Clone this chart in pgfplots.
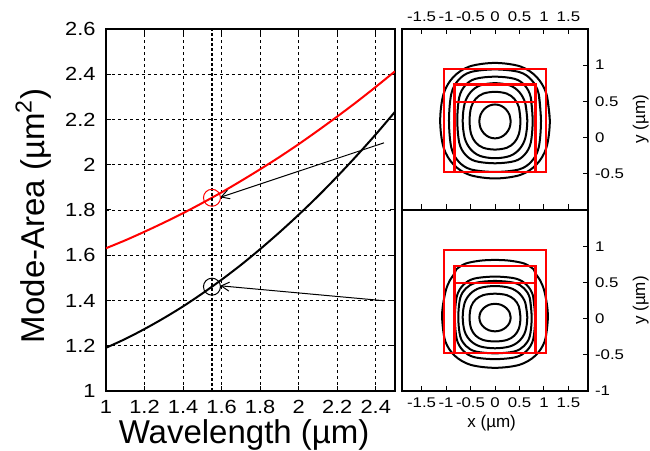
\documentclass[border=0pt]{standalone}
\usepackage{fontspec}
\setmainfont{Liberation Sans}
\newfontfamily\tickfont[FakeStretch=1.15]{Liberation Sans}
\newfontfamily\smalltickfont[FakeStretch=1.2]{Liberation Sans}
\usepackage{pgfplots}
\pgfplotsset{compat=1.18}
\usetikzlibrary{arrows.meta}
\pgfplotsset{
  every axis/.append style={
    scale only axis,
    axis line style={line width=0.75pt},
    tick align=inside,
    major tick length=2.5pt,
    tick style={black, line width=0.5pt},
    /pgf/number format/assume math mode=true,
  },
  contour/.style={black, line width=1pt, smooth, tension=0.55, no markers, line join=round},
  wg/.style={red, line width=1.15pt, sharp plot, no markers, line join=miter},
  panel/.style={
    anchor=south west, width=93pt,
    xmin=-1.9, xmax=1.9, ymin=-1, ymax=1.5,
    xtick={-1.5,-1,-0.5,0,0.5,1,1.5},
    ytick pos=right, yticklabel pos=right,
    tick label style={font=\smalltickfont\fontsize{7}{8}\selectfont},
    ylabel={y (µm)},
    every axis y label/.style={at={(axis description cs:1.283,0.5)}, rotate=90, anchor=center, font=\fontsize{8.5}{10}\selectfont},
  },
}
\begin{document}
\begin{tikzpicture}
\useasboundingbox (0,0) rectangle (325pt,225.5pt);
% ---------------- main axis ----------------
\begin{axis}[
  at={(53pt,30pt)}, anchor=south west,
  width=144.5pt, height=181pt,
  xmin=1, xmax=2.5, ymin=1, ymax=2.6,
  xtick={1,1.2,1.4,1.6,1.8,2,2.2,2.4},
  ytick={1,1.2,1.4,1.6,1.8,2,2.2,2.4,2.6},
  xtick pos=both, ytick pos=both,
  tick label style={font=\tickfont\fontsize{9.5}{11}\selectfont},
  xticklabel style={yshift=-1.2pt},
  yticklabel style={xshift=-1.7pt},
  grid=major,
  major grid style={black, line width=0.4pt, dash pattern=on 1.5pt off 1.5pt},
  xlabel={Wavelength (µm)},
  ylabel={Mode-Area (µm\textsuperscript{2})},
  every axis x label/.style={at={(axis description cs:0.478,0)}, anchor=base, yshift=-26.15pt, font=\fontsize{16.5}{18}\selectfont},
  every axis y label/.style={at={(axis description cs:-0.2516,0.484)}, rotate=90, anchor=center, font=\fontsize{16.5}{18}\selectfont},
]
\addplot[red, line width=1pt, smooth, no markers] coordinates {
(1.0,1.631) (1.1,1.666) (1.2,1.704) (1.3,1.744) (1.4,1.786) (1.5,1.831)
(1.6,1.878) (1.7,1.928) (1.8,1.980) (1.9,2.034) (2.0,2.091) (2.1,2.151)
(2.2,2.213) (2.3,2.277) (2.4,2.344) (2.5,2.413)};
\addplot[black, line width=1pt, smooth, no markers] coordinates {
(1.0,1.191) (1.1,1.230) (1.2,1.274) (1.3,1.322) (1.4,1.374) (1.5,1.431)
(1.6,1.492) (1.7,1.557) (1.8,1.627) (1.9,1.701) (2.0,1.779) (2.1,1.861)
(2.2,1.948) (2.3,2.039) (2.4,2.134) (2.5,2.234)};
\addplot[black, line width=1pt, dash pattern=on 1.5pt off 1pt, no markers] coordinates {(1.55,1) (1.55,2.6)};
\addplot[red, only marks, mark=o, mark size=4.25pt, mark options={line width=0.5pt}] coordinates {(1.55,1.854)};
\addplot[black, only marks, mark=o, mark size=4.25pt, mark options={line width=0.5pt}] coordinates {(1.55,1.461)};
\addplot[black, line width=0.5pt, no markers, -{Straight Barb[length=4pt,width=4.5pt]}] coordinates {(2.443,2.097) (1.593,1.856)};
\addplot[black, line width=0.5pt, no markers, -{Straight Barb[length=4pt,width=4.5pt]}] coordinates {(2.443,1.399) (1.593,1.465)};
\end{axis}
% ---------------- top contour panel ----------------
\begin{axis}[panel,
  at={(201pt,120.75pt)}, height=90.25pt,
  xtick pos=both, xticklabel pos=upper,
  ytick={-0.5,0,0.5,1},
]
\addplot[contour] coordinates {(.32,.22) (.296,.310) (.226,.386) (.123,.437) (0,.455) (-.123,.437) (-.226,.386) (-.296,.310) (-.32,.22) (-.296,.130) (-.226,.054) (-.123,.003) (0,-.015) (.123,.003) (.226,.054) (.296,.130) (.32,.22) (.296,.310)};
\addplot[contour] coordinates {(.52,.23) (.488,.416) (.394,.533) (.241,.605) (0,.63) (-.241,.605) (-.394,.533) (-.488,.416) (-.52,.23) (-.488,.044) (-.394,-.073) (-.241,-.145) (0,-.17) (.241,-.145) (.394,-.073) (.488,.044) (.52,.23) (.488,.416)};
\addplot[contour] coordinates {(.66,.23) (.619,.471) (.5,.624) (.306,.718) (0,.75) (-.306,.718) (-.5,.624) (-.619,.471) (-.66,.23) (-.619,-.011) (-.5,-.164) (-.306,-.258) (0,-.29) (.306,-.258) (.5,-.164) (.619,-.011) (.66,.23) (.619,.471)};
\addplot[contour] coordinates {(.77,.24) (.73,.556) (.611,.716) (.406,.809) (0,.84) (-.406,.809) (-.611,.716) (-.73,.556) (-.77,.24) (-.73,-.076) (-.611,-.236) (-.406,-.329) (0,-.36) (.406,-.329) (.611,-.236) (.73,-.076) (.77,.24) (.73,.556)};
\addplot[contour] coordinates {(.94,.23) (.892,.604) (.746,.794) (.496,.904) (0,.94) (-.496,.904) (-.746,.794) (-.892,.604) (-.94,.23) (-.892,-.144) (-.746,-.334) (-.496,-.444) (0,-.48) (.496,-.444) (.746,-.334) (.892,-.144) (.94,.23) (.892,.604)};
\addplot[contour] coordinates {(1.12,.23) (1.051,.601) (.849,.836) (.519,.981) (0,1.03) (-.519,.981) (-.849,.836) (-1.051,.601) (-1.12,.23) (-1.051,-.141) (-.849,-.376) (-.519,-.521) (0,-.57) (.519,-.521) (.849,-.376) (1.051,-.141) (1.12,.23) (1.051,.601)};
\addplot[wg] coordinates {(-1.04,-0.48) (1.04,-0.48) (1.04,0.95) (-1.04,0.95) (-1.04,-0.48) (1.04,-0.48)};
\addplot[wg] coordinates {(-0.83,-0.48) (0.83,-0.48) (0.83,0.73) (-0.83,0.73) (-0.83,-0.48) (0.83,-0.48)};
\addplot[wg] coordinates {(-0.83,0.49) (0.83,0.49)};
\end{axis}
% ---------------- bottom contour panel ----------------
\begin{axis}[panel,
  at={(201pt,30pt)}, height=90.5pt,
  xtick pos=left, xticklabel pos=lower,
  ytick={-1,-0.5,0,0.5,1},
  xlabel={x (µm)},
  every axis x label/.style={at={(axis description cs:0.482,0)}, anchor=base, yshift=-18.35pt, font=\fontsize{8.5}{10}\selectfont},
]
\addplot[contour] coordinates {(.32,.014) (.296,.087) (.226,.148) (.123,.19) (0,.204) (-.123,.19) (-.226,.148) (-.296,.087) (-.32,.014) (-.296,-.059) (-.226,-.12) (-.123,-.162) (0,-.176) (.123,-.162) (.226,-.12) (.296,-.059) (.32,.014) (.296,.087)};
\addplot[contour] coordinates {(.52,.014) (.488,.167) (.394,.264) (.241,.324) (0,.344) (-.241,.324) (-.394,.264) (-.488,.167) (-.52,.014) (-.488,-.139) (-.394,-.236) (-.241,-.296) (0,-.316) (.241,-.296) (.394,-.236) (.488,-.139) (.52,.014) (.488,.167)};
\addplot[contour] coordinates {(.66,.02) (.619,.219) (.5,.346) (.306,.424) (0,.45) (-.306,.424) (-.5,.346) (-.619,.219) (-.66,.02) (-.619,-.179) (-.5,-.306) (-.306,-.384) (0,-.41) (.306,-.384) (.5,-.306) (.619,-.179) (.66,.02) (.619,.219)};
\addplot[contour] coordinates {(.75,.02) (.711,.284) (.595,.417) (.395,.494) (0,.52) (-.395,.494) (-.595,.417) (-.711,.284) (-.75,.02) (-.711,-.244) (-.595,-.377) (-.395,-.454) (0,-.48) (.395,-.454) (.595,-.377) (.711,-.244) (.75,.02) (.711,.284)};
\addplot[contour] coordinates {(.82,.01) (.778,.311) (.651,.462) (.432,.551) (0,.58) (-.432,.551) (-.651,.462) (-.778,.311) (-.82,.01) (-.778,-.291) (-.651,-.442) (-.432,-.531) (0,-.56) (.432,-.531) (.651,-.442) (.778,-.291) (.82,.01) (.778,.311)};
\addplot[contour] coordinates {(1.08,0) (1.06,.2) (1.0,.4) (.92,.53) (.83,.62) (.79,.68) (.6,.76) (.3,.80) (0,.81) (-.3,.80) (-.6,.76) (-.79,.68) (-.83,.62) (-.92,.53) (-1.0,.4) (-1.06,.2) (-1.08,0) (-1.014,-.315) (-.819,-.515) (-.501,-.638) (0,-.68) (.501,-.638) (.819,-.515) (1.014,-.315) (1.08,0) (1.06,.2)};
\addplot[wg] coordinates {(-1.04,-0.48) (1.04,-0.48) (1.04,0.95) (-1.04,0.95) (-1.04,-0.48) (1.04,-0.48)};
\addplot[wg] coordinates {(-0.83,-0.48) (0.83,-0.48) (0.83,0.73) (-0.83,0.73) (-0.83,-0.48) (0.83,-0.48)};
\addplot[wg] coordinates {(-0.83,0.49) (0.83,0.49)};
\end{axis}
\end{tikzpicture}
\end{document}
